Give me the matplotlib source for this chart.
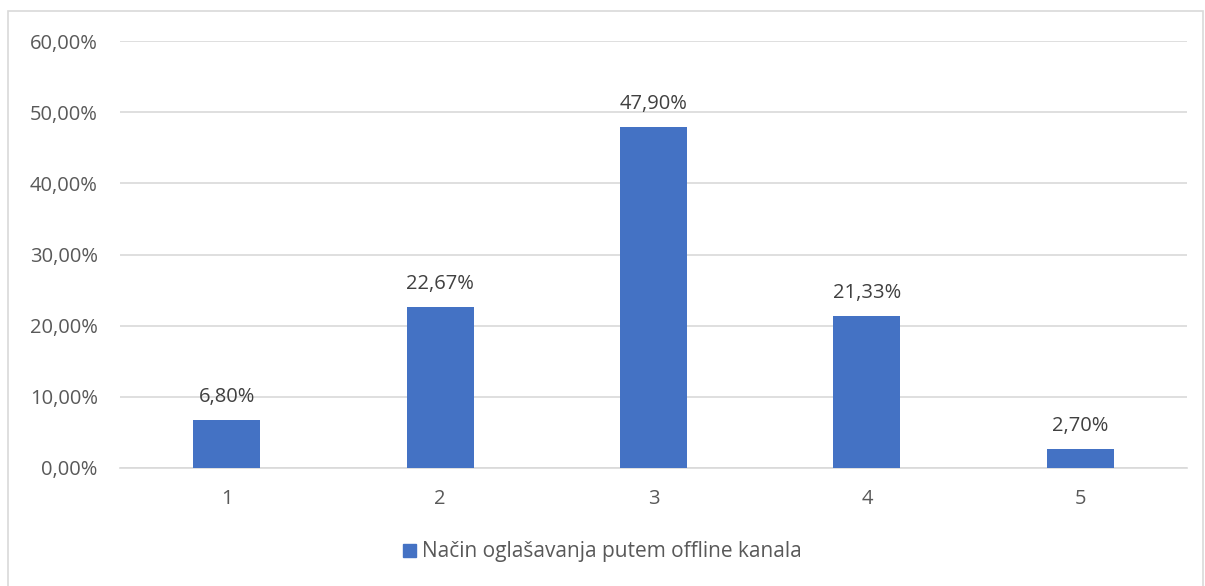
import matplotlib.pyplot as plt
from matplotlib.patches import Rectangle, Patch

categories = ["1", "2", "3", "4", "5"]
values = [6.80, 22.67, 47.90, 21.33, 2.70]
series_name = "Način oglašavanja putem offline kanala"

plt.rcParams['font.family'] = ['Open Sans', 'DejaVu Sans']

W, H = 1205, 586
fig = plt.figure(figsize=(W / 100, H / 100), dpi=100)
ax = fig.add_axes([120 / W, 1 - 468 / H, (1187 - 120) / W, (468 - 41) / H])

# chart frame
fig.patches.append(Rectangle((8 / W, -0.05), (1203 - 8) / W, 1.05 - 11 / H,
                             transform=fig.transFigure, fill=False,
                             edgecolor='#D9D9D9', linewidth=1.2))

x = range(len(categories))
ax.bar(x, values, width=0.314, color='#4472C4', zorder=3)
for xi, v in zip(x, values):
    ax.text(xi, v + 1.8, f"{v:.2f}%".replace('.', ','), ha='center', va='bottom',
            fontsize=14.5, color='#404040')

ax.set_xlim(-0.5, len(categories) - 0.5)
ax.set_ylim(0, 60)
ax.set_yticks(range(0, 61, 10))
ax.set_yticklabels([f"{t:.2f}%".replace('.', ',') for t in range(0, 61, 10)])
ax.set_xticks(list(x))
ax.set_xticklabels(categories)
ax.tick_params(length=0, labelsize=14.5, colors='#595959')
ax.tick_params(axis='y', pad=16)
ax.tick_params(axis='x', pad=15)
ax.grid(axis='y', color='#D9D9D9', linewidth=1.2, zorder=0)
for s in ['top', 'right', 'left']:
    ax.spines[s].set_visible(False)
ax.spines['bottom'].set_color('#D9D9D9')
ax.spines['bottom'].set_linewidth(1.2)

fig.legend(handles=[Patch(color='#4472C4', label=series_name)],
           loc='center', bbox_to_anchor=(0.5, 1 - 552 / H), frameon=False,
           fontsize=15, labelcolor='#595959', handlelength=0.6, handleheight=0.6,
           handletextpad=0.3)

fig.savefig('out.png', dpi=100)
